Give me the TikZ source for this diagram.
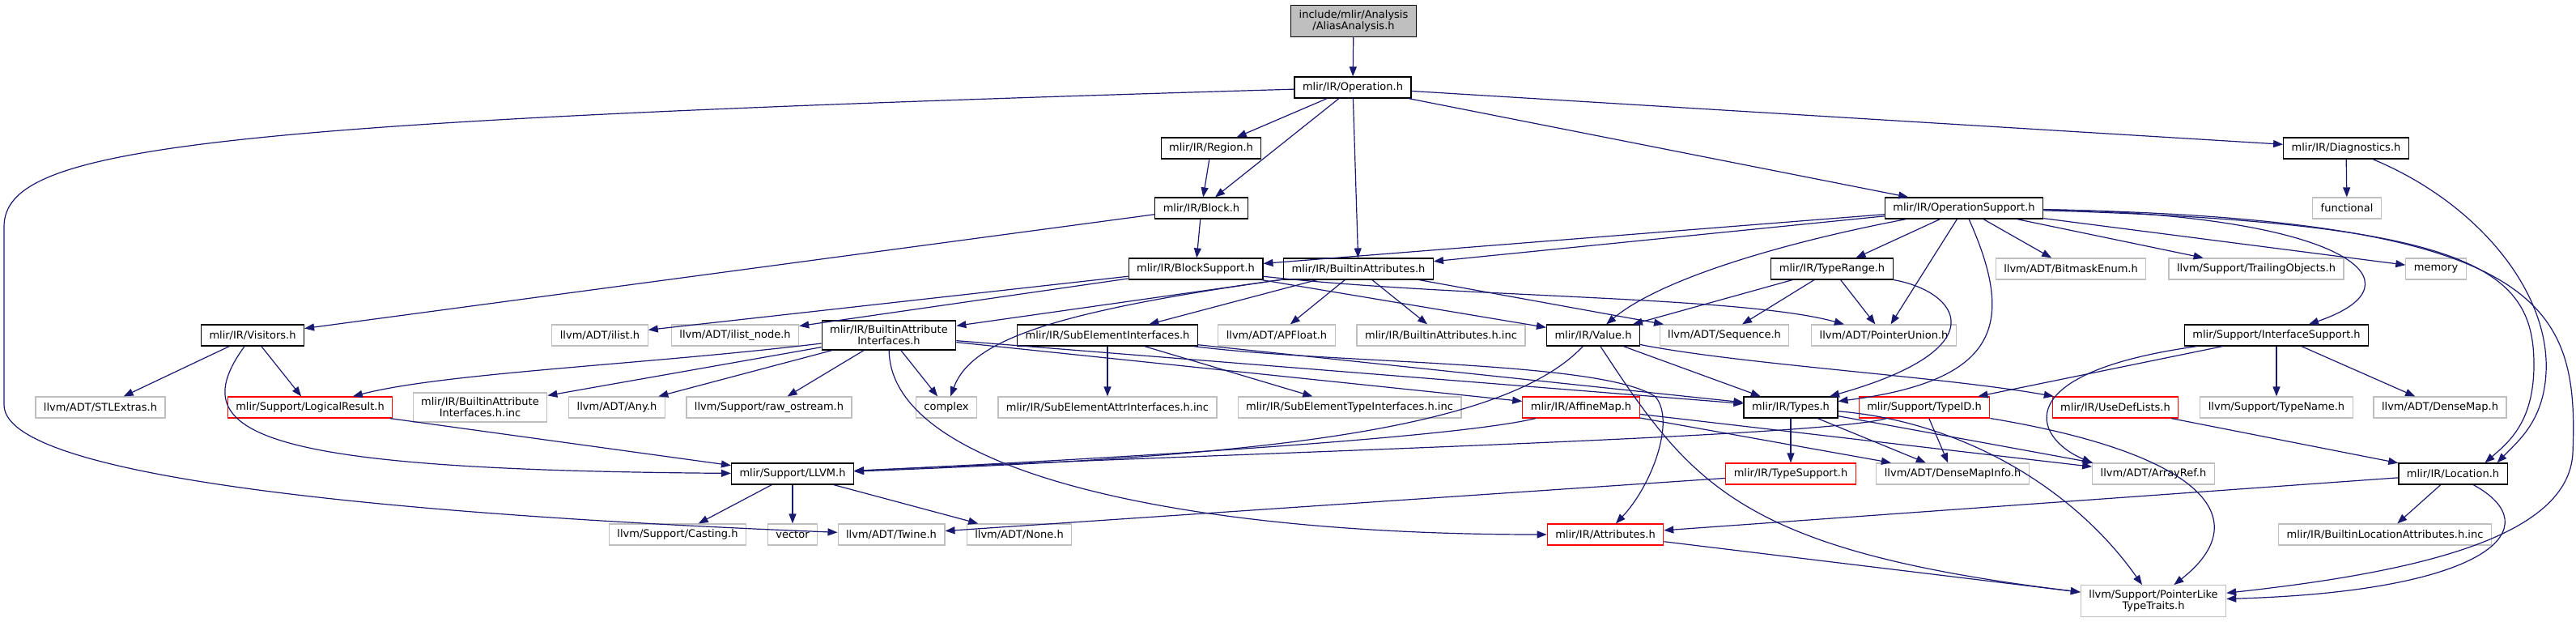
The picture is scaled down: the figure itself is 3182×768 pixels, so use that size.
\documentclass[tikz,border=0pt]{standalone}
\usepackage{fontspec}
\setmainfont{DejaVu Sans}
\usetikzlibrary{arrows.meta}
\definecolor{cedge}{HTML}{191970}
\definecolor{cgray}{HTML}{BFBFBF}
\definecolor{cred}{HTML}{FF0000}

\begin{document}
\begin{tikzpicture}[x=1pt, y=-1pt,
  box/.style={draw=black, line width=1.2pt, fill=white, minimum height=26pt,
              inner xsep=10pt, inner ysep=6pt, align=center,
              font=\fontsize{13}{14}\selectfont},
  ext/.style={box, draw=cgray},
  trunc/.style={box, draw=cred},
  dep/.style={-{Triangle[length=12pt, width=9pt]}, line width=1.2pt, color=cedge}
]
\useasboundingbox (0,0) rectangle (3182,768);

\node[box, fill=cgray] (alias) at (1672,26) {include/mlir/Analysis\\/AliasAnalysis.h};
\node[box] (operation) at (1671,108) {mlir/IR/Operation.h};
\node[box] (region) at (1496,183) {mlir/IR/Region.h};
\node[box] (diagnostics) at (2898,183) {mlir/IR/Diagnostics.h};
\node[box] (block) at (1484,257) {mlir/IR/Block.h};
\node[box] (opsupport) at (2426,257) {mlir/IR/OperationSupport.h};
\node[ext] (functional) at (2899,257) {functional};
\node[box] (blocksupport) at (1477,332) {mlir/IR/BlockSupport.h};
\node[box] (battrs) at (1678,332) {mlir/IR/BuiltinAttributes.h};
\node[box] (typerange) at (2263,332) {mlir/IR/TypeRange.h};
\node[ext] (bitmask) at (2558,332) {llvm/ADT/BitmaskEnum.h};
\node[ext] (trailing) at (2787,332) {llvm/Support/TrailingObjects.h};
\node[ext] (memory) at (3009,332) {memory};
\node[box] (visitors) at (312,414) {mlir/IR/Visitors.h};
\node[ext] (ilist) at (741,414) {llvm/ADT/ilist.h};
\node[ext] (ilistnode) at (908,414) {llvm/ADT/ilist\_node.h};
\node[box] (battrif) at (1098,414) {mlir/IR/BuiltinAttribute\\Interfaces.h};
\node[box] (subelem) at (1368,414) {mlir/IR/SubElementInterfaces.h};
\node[ext] (apfloat) at (1577,414) {llvm/ADT/APFloat.h};
\node[ext] (battrsinc) at (1780,414) {mlir/IR/BuiltinAttributes.h.inc};
\node[box] (value) at (1968,414) {mlir/IR/Value.h};
\node[ext] (sequence) at (2130,414) {llvm/ADT/Sequence.h};
\node[ext] (ptrunion) at (2327,414) {llvm/ADT/PointerUnion.h};
\node[box] (ifsupport) at (2812,414) {mlir/Support/InterfaceSupport.h};
\node[ext] (stlextras) at (124,503) {llvm/ADT/STLExtras.h};
\node[trunc] (logical) at (383,503) {mlir/Support/LogicalResult.h};
\node[ext] (battrifinc) at (593,503) {mlir/IR/BuiltinAttribute\\Interfaces.h.inc};
\node[ext] (any) at (762,503) {llvm/ADT/Any.h};
\node[ext] (rawos) at (950,503) {llvm/Support/raw\_ostream.h};
\node[ext] (complex) at (1169,503) {complex};
\node[ext] (subattrinc) at (1368,503) {mlir/IR/SubElementAttrInterfaces.h.inc};
\node[ext] (subtypeinc) at (1667,503) {mlir/IR/SubElementTypeInterfaces.h.inc};
\node[trunc] (affinemap) at (1953,503) {mlir/IR/AffineMap.h};
\node[box] (types) at (2212,503) {mlir/IR/Types.h};
\node[trunc] (typeid) at (2377,503) {mlir/Support/TypeID.h};
\node[trunc] (usedef) at (2613,503) {mlir/IR/UseDefLists.h};
\node[ext] (typename) at (2812,503) {llvm/Support/TypeName.h};
\node[ext] (densemap) at (3014,503) {llvm/ADT/DenseMap.h};
\node[box] (llvm) at (979,585) {mlir/Support/LLVM.h};
\node[trunc] (typesupport) at (2212,585) {mlir/IR/TypeSupport.h};
\node[ext] (densemapinfo) at (2412,585) {llvm/ADT/DenseMapInfo.h};
\node[ext] (arrayref) at (2660,585) {llvm/ADT/ArrayRef.h};
\node[box] (location) at (3030,585) {mlir/IR/Location.h};
\node[ext] (casting) at (837,660) {llvm/Support/Casting.h};
\node[ext] (vector) at (979,660) {vector};
\node[ext] (twine) at (1101,660) {llvm/ADT/Twine.h};
\node[ext] (llvmnone) at (1259,660) {llvm/ADT/None.h};
\node[trunc] (attributes) at (1983,660) {mlir/IR/Attributes.h};
\node[ext] (builtinloc) at (2946,660) {mlir/IR/BuiltinLocationAttributes.h.inc};
\node[ext] (pointerlike) at (2660,742) {llvm/Support/PointerLike\\TypeTraits.h};

\draw[dep] (alias) -- (operation);
\draw[dep] (operation) -- (region);
\draw[dep] (operation) -- (block);
\draw[dep] (operation) -- (battrs);
\draw[dep] (operation) -- (opsupport);
\draw[dep] (operation) -- (diagnostics);
\draw[dep] (operation) .. controls (250,150) and (5,180) .. (5,280) -- (5,500) .. controls (5,600) and (600,640) .. (twine);
\draw[dep] (region) -- (block);
\draw[dep] (block) -- (blocksupport);
\draw[dep] (block) -- (visitors);
\draw[dep] (blocksupport) -- (ilist);
\draw[dep] (blocksupport) -- (ilistnode);
\draw[dep] (blocksupport) -- (value);
\draw[dep] (blocksupport) .. controls (1800,368) and (2150,365) .. (ptrunion);
\draw[dep] (battrs) -- (battrif);
\draw[dep] (battrs) .. controls (1300,385) and (1200,420) .. (complex);
\draw[dep] (battrs) -- (subelem);
\draw[dep] (battrs) -- (apfloat);
\draw[dep] (battrs) -- (battrsinc);
\draw[dep] (battrs) -- (sequence);
\draw[dep] (opsupport) -- (blocksupport);
\draw[dep] (opsupport) -- (battrs);
\draw[dep] (opsupport) .. controls (2200,300) and (2050,345) .. (value);
\draw[dep] (opsupport) -- (typerange);
\draw[dep] (opsupport) -- (ptrunion);
\draw[dep] (opsupport) .. controls (2490,400) and (2470,470) .. (types);
\draw[dep] (opsupport) -- (bitmask);
\draw[dep] (opsupport) -- (trailing);
\draw[dep] (opsupport) -- (memory);
\draw[dep] (opsupport) .. controls (2900,265) and (3000,350) .. (ifsupport);
\draw[dep] (opsupport) .. controls (3050,275) and (3130,330) .. (3130,450) .. controls (3130,520) and (3100,545) .. (location.19);
\draw[dep] (opsupport) .. controls (3150,270) and (3185,380) .. (3178,560) .. controls (3172,660) and (3000,705) .. (pointerlike);
\draw[dep] (diagnostics) -- (functional);
\draw[dep] (diagnostics) .. controls (3060,250) and (3150,360) .. (3145,460) .. controls (3142,520) and (3110,545) .. (location.14);
\draw[dep] (typerange) -- (value);
\draw[dep] (typerange) -- (sequence);
\draw[dep] (typerange) -- (ptrunion);
\draw[dep] (typerange) .. controls (2420,360) and (2470,430) .. (types);
\draw[dep] (visitors) -- (stlextras);
\draw[dep] (visitors) -- (logical);
\draw[dep] (visitors) .. controls (220,540) and (330,580) .. (llvm);
\draw[dep] (logical) -- (llvm);
\draw[dep] (battrif) .. controls (800,450) and (550,460) .. (logical);
\draw[dep] (battrif) -- (battrifinc);
\draw[dep] (battrif) -- (any);
\draw[dep] (battrif) -- (rawos);
\draw[dep] (battrif) -- (complex);
\draw[dep] (battrif) .. controls (1100,580) and (1450,660) .. (attributes);
\draw[dep] (battrif) -- (affinemap);
\draw[dep] (battrif) -- (types);
\draw[dep] (subelem) -- (subattrinc);
\draw[dep] (subelem) -- (subtypeinc);
\draw[dep] (subelem) -- (types);
\draw[dep] (subelem) .. controls (1650,450) and (1980,445) .. (2045,490) .. controls (2070,520) and (2040,600) .. (attributes);
\draw[dep] (value) .. controls (1850,540) and (1500,565) .. (llvm);
\draw[dep] (value) -- (types);
\draw[dep] (value) .. controls (2150,450) and (2400,465) .. (usedef);
\draw[dep] (value) .. controls (2090,600) and (2150,680) .. (pointerlike);
\draw[dep] (affinemap) .. controls (1800,540) and (1400,565) .. (llvm);
\draw[dep] (affinemap) -- (densemapinfo);
\draw[dep] (affinemap) -- (arrayref);
\draw[dep] (types) -- (typesupport);
\draw[dep] (types) -- (densemapinfo);
\draw[dep] (types) -- (arrayref);
\draw[dep] (types) .. controls (2420,520) and (2560,600) .. (pointerlike);
\draw[dep] (typesupport) -- (twine);
\draw[dep] (typeid) .. controls (2250,540) and (1500,560) .. (llvm);
\draw[dep] (typeid) -- (densemapinfo);
\draw[dep] (typeid) .. controls (2720,560) and (2790,640) .. (pointerlike);
\draw[dep] (ifsupport) -- (typeid);
\draw[dep] (ifsupport) .. controls (2480,460) and (2510,540) .. (arrayref.north west);
\draw[dep] (ifsupport) -- (typename);
\draw[dep] (ifsupport) -- (densemap);
\draw[dep] (usedef) -- (location);
\draw[dep] (location) -- (attributes);
\draw[dep] (location) -- (builtinloc);
\draw[dep] (location) .. controls (3150,650) and (3080,730) .. (pointerlike);
\draw[dep] (attributes) -- (pointerlike);
\draw[dep] (llvm) -- (casting);
\draw[dep] (llvm) -- (vector);
\draw[dep] (llvm) -- (llvmnone);
\end{tikzpicture}
\end{document}
